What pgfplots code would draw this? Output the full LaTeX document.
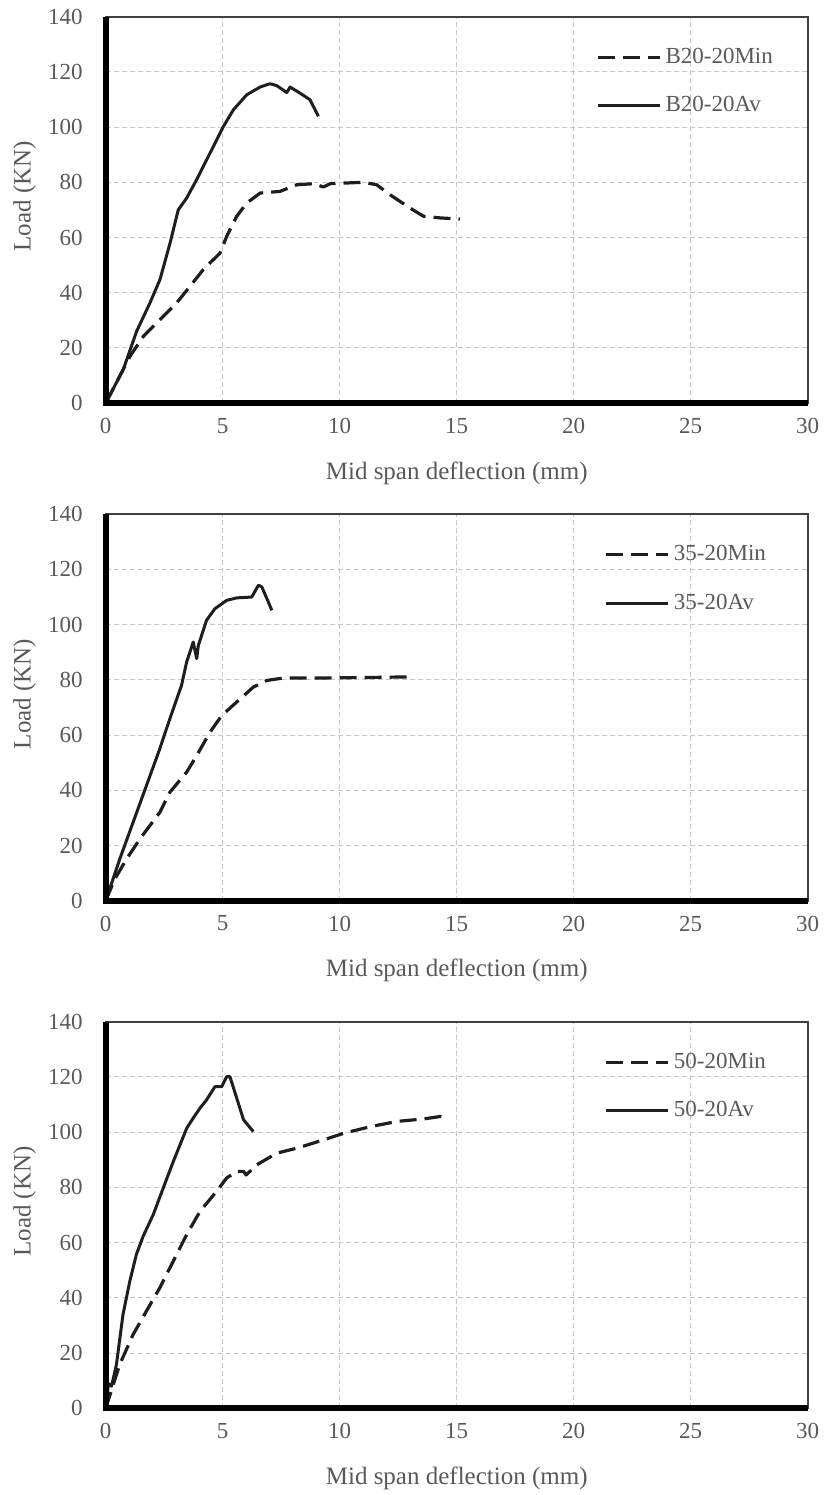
\documentclass[border=0pt]{standalone}
\usepackage{fontspec}
\setmainfont{Liberation Serif}
\usepackage{pgfplots}
\pgfplotsset{compat=1.18}

\definecolor{txt}{HTML}{595959}
\definecolor{grd}{HTML}{C8C8C8}
\definecolor{frm}{HTML}{404040}
\definecolor{ln}{HTML}{1E1E1E}

\pgfplotsset{
  panel/.style={
    scale only axis, width=351pt, height=193.3pt, anchor=north west,
    xmin=0, xmax=30, ymin=0, ymax=140,
    xtick={0,5,...,30}, ytick={0,20,...,140},
    major tick length=0pt,
    /pgf/number format/assume math mode=true,
    xticklabel style={font=\fontsize{11.5}{13}\selectfont, text=txt, yshift=-4pt},
    yticklabel style={font=\fontsize{11.5}{13}\selectfont, text=txt, xshift=-8pt},
    grid=major,
    major grid style={grd, line width=0.5pt, dash pattern=on 2.5pt off 1.5pt},
    axis line style={frm, line width=1pt},
    clip=false,
    every axis x label/.style={at={(rel axis cs:0.5,0)}, anchor=center, yshift=-35pt},
    every axis y label/.style={at={(rel axis cs:0,0.535)}, xshift=-40.5pt, rotate=90, anchor=center},
    xlabel style={font=\fontsize{12.5}{14}\selectfont, text=txt},
    ylabel style={font=\fontsize{12.5}{14}\selectfont, text=txt},
    xlabel={Mid span deflection (mm)},
    ylabel={Load (KN)},
    legend image code/.code={\draw[##1] (0pt,0pt) -- (31pt,0pt);},
    legend style={draw=none, fill=none, font=\fontsize{11.5}{13}\selectfont, text=txt,
      anchor=north west, row sep=11pt, inner sep=0pt},
    legend cell align=left,
  },
  minl/.style={ln, line width=1.6pt, line join=round, dash pattern=on 8.5pt off 4pt},
  avl/.style={ln, line width=1.5pt, line join=round},
}

\begin{document}
\begin{tikzpicture}
\useasboundingbox (0,0) rectangle (412.5pt,-747.5pt);

% panel a
\begin{axis}[panel, at={(52.85pt,-8.3pt)},
  legend style={at={(rel axis cs:0.704,1)}, xshift=-2pt, yshift=-13.5pt}]
\addplot[minl] coordinates {(0,0) (1.04,17) (1.61,24.2) (2.32,30.3) (3.03,36.3) (3.6,42.3) (4.17,48.4) (4.89,54.4) (5.17,60.4) (5.6,67.7) (6.03,72.5) (6.6,76.1) (7.45,76.7) (8.16,79.1) (8.9,79.5) (9.3,78.3) (9.6,79.5) (10.16,79.7) (11.01,80) (11.58,79.1) (12.15,75.5) (13.0,70.7) (13.58,67.7) (14.29,67.1) (15.14,66.7)};
\addlegendentry{B20-20Min}
\addplot[avl] coordinates {(0,0) (0.75,12.2) (1.32,26) (1.89,36.3) (2.32,44.8) (2.75,58) (3.1,70) (3.46,74.3) (3.89,81) (4.46,90.6) (5.03,100.2) (5.46,106.3) (6.03,111.7) (6.6,114.5) (7.02,115.7) (7.31,115) (7.74,112.5) (7.88,114.5) (8.3,112.3) (8.73,109.9) (9.09,103.9)};
\addlegendentry{B20-20Av}
\draw[line width=3pt, black] (rel axis cs:0,1) -- (rel axis cs:0,0) -- (rel axis cs:1,0);
\end{axis}

% panel b
\begin{axis}[panel, at={(52.85pt,-257.1pt)},
  legend style={at={(rel axis cs:0.716,1)}, xshift=-2pt, yshift=-13.5pt}]
\addplot[minl] coordinates {(0,0) (0.39,7.9) (0.89,15.1) (1.46,22.4) (2.31,32) (2.74,39.3) (3.46,46.6) (3.89,52.6) (4.46,61.1) (4.96,67.1) (5.6,72) (6.31,77.4) (6.89,79.8) (7.6,80.7) (9.31,80.7) (11.46,80.9) (13.03,81.1)};
\addlegendentry{35-20Min}
\addplot[avl] coordinates {(0,0) (0.6,15.1) (1.17,28.4) (1.74,41.7) (2.31,55) (2.74,65.9) (3.24,78) (3.46,86.5) (3.74,93.7) (3.89,87.7) (3.96,92.5) (4.31,101.6) (4.67,105.8) (5.17,108.8) (5.6,109.7) (6.24,110) (6.53,114.3) (6.67,113.7) (6.89,109.4) (7.1,105.2)};
\addlegendentry{35-20Av}
\draw[line width=3pt, black] (rel axis cs:0,1) -- (rel axis cs:0,0) -- (rel axis cs:1,0);
\end{axis}

% panel c
\begin{axis}[panel, at={(52.85pt,-510.85pt)},
  legend style={at={(rel axis cs:0.716,1)}, xshift=-2pt, yshift=-13.5pt}]
\addplot[minl] coordinates {(0,0) (0.6,15.9) (1.17,26.7) (1.74,35.2) (2.31,43.6) (2.89,53.3) (3.46,62.9) (4.03,71.3) (4.74,78.6) (5.17,83.4) (5.6,85.8) (5.89,85.8) (6.0,84.5) (6.46,88.2) (7.31,92.4) (8.17,94.2) (9.31,97.2) (10.17,99.6) (11.31,102) (12.46,103.9) (13.6,104.8) (14.31,105.7) (14.6,105.1)};
\addlegendentry{50-20Min}
\addplot[avl] coordinates {(0,0) (0.12,9) (0.25,8) (0.46,15.9) (0.74,34) (1.03,46) (1.31,55.7) (1.6,62.3) (2.03,70.1) (2.46,79.8) (2.89,89.4) (3.46,101.4) (3.74,105.1) (4.03,108.7) (4.31,111.7) (4.67,116.5) (4.96,116.5) (5.17,120.1) (5.31,120.1) (5.6,112.3) (5.89,104.5) (6.31,100.2)};
\addlegendentry{50-20Av}
\draw[line width=3pt, black] (rel axis cs:0,1) -- (rel axis cs:0,0) -- (rel axis cs:1,0);
\end{axis}
\end{tikzpicture}
\end{document}
